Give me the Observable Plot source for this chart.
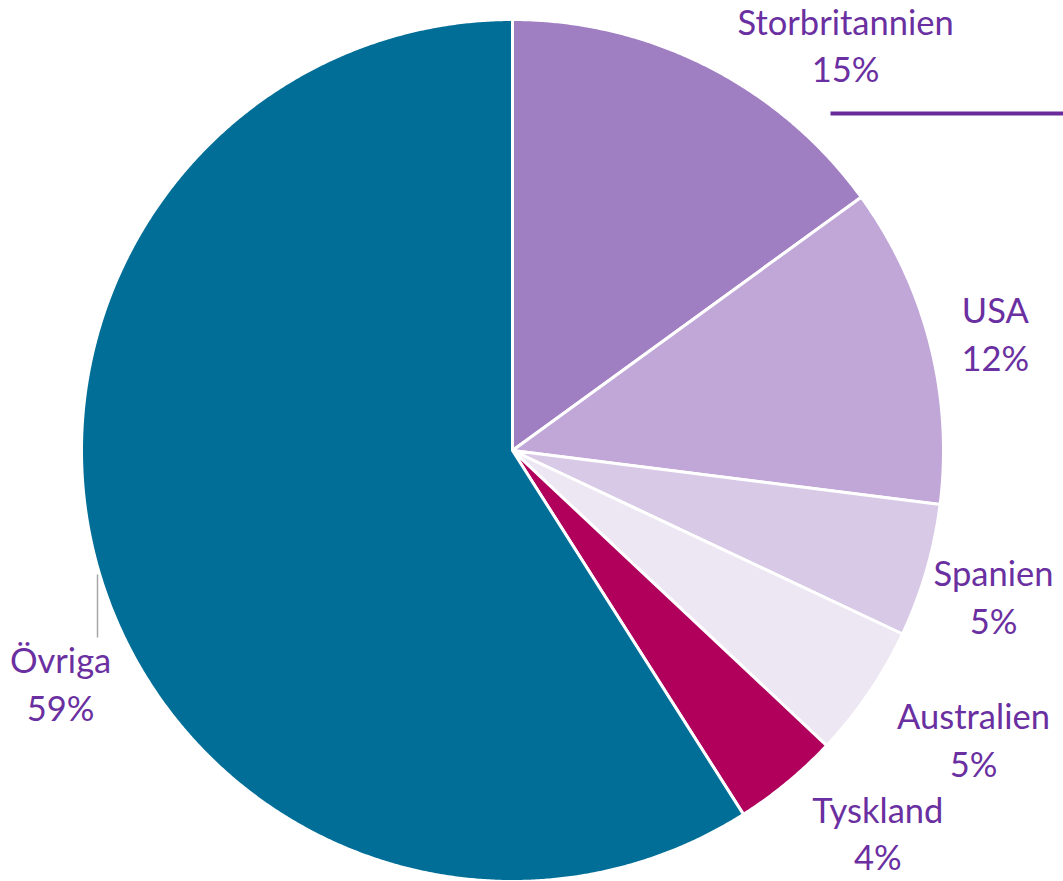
<!DOCTYPE html>
<html>
<head>
<meta charset="utf-8">
<script src="https://cdn.jsdelivr.net/npm/d3@7"></script>
<script src="https://cdn.jsdelivr.net/npm/@observablehq/plot@0.6"></script>
<style>
  html, body { margin: 0; padding: 0; background: #fff; }
  #chart { width: 1063px; height: 881px; }
</style>
</head>
<body>
<div id="chart"></div>
<script>
// ---- data ----
const categories = ["Storbritannien", "USA", "Spanien", "Australien", "Tyskland", "Övriga"];
const shares = [15, 12, 5, 5, 4, 59];
const colors = ["#A07EC2", "#C0A7D7", "#D8C9E6", "#EDE7F3", "#B0005C", "#006E96"];

// ---- layout (label placement: angle offset from slice middle in degrees, radius factor) ----
const labelAngleOffset = [12.5, 0.9, 0.8, -2.0, -4.0, -11.2];
const labelRadius = [1.215, 1.152, 1.167, 1.264, 1.229, 1.181];

const W = 1063, H = 881, CX = 512, CY = 450, R = 431;

const pie = d3.pie().sort(null).value(d => d)(shares);

// build slice polygons in unit-radius coordinates from the pie angles
const slicePts = [];
pie.forEach((p, i) => {
  const n = Math.max(4, Math.ceil((p.endAngle - p.startAngle) / 0.005));
  slicePts.push({name: categories[i], x: 0, y: 0, k: 0});
  for (let j = 0; j <= n; j++) {
    const a = p.startAngle + (p.endAngle - p.startAngle) * j / n;
    slicePts.push({name: categories[i], x: Math.sin(a), y: Math.cos(a), k: j + 1});
  }
  slicePts.push({name: categories[i], x: 0, y: 0, k: n + 2});
});

const labels = pie.map((p, i) => {
  const a = (p.startAngle + p.endAngle) / 2 + labelAngleOffset[i] * Math.PI / 180;
  return {
    name: categories[i],
    text: `${categories[i]}\n${shares[i]}%`,
    x: Math.sin(a) * labelRadius[i],
    y: Math.cos(a) * labelRadius[i]
  };
});

// leader lines (in unit-radius coordinates)
const leaders = [
  {x1: (830 - CX) / R, y1: (CY - 113) / R, x2: (1063 - CX) / R, y2: (CY - 113) / R, c: "#6A2A9A", w: 4},
  {x1: (97 - CX) / R, y1: (CY - 574) / R, x2: (97 - CX) / R, y2: (CY - 637) / R, c: "#A6A6A6", w: 1.5}
];

const chart = Plot.plot({
  width: W,
  height: H,
  margin: 0,
  x: {domain: [-CX / R, (W - CX) / R], axis: null},
  y: {domain: [-(H - CY) / R, CY / R], axis: null},
  color: {domain: categories, range: colors},
  marks: [
    Plot.line(slicePts, {x: "x", y: "y", z: "name", fill: "name", stroke: "white", strokeWidth: 3, strokeLinejoin: "round", curve: "linear"}),
    Plot.link(leaders, {x1: "x1", y1: "y1", x2: "x2", y2: "y2", stroke: d => d.c, strokeWidth: d => d.w}),
    Plot.text(labels, {x: "x", y: "y", dy: -3, text: "text", fill: "#6A2FA0", fontSize: 34.5, lineHeight: 1.38, fontFamily: "Lato, 'Open Sans', sans-serif", textAnchor: "middle"})
  ]
});
document.getElementById("chart").appendChild(chart);
</script>
</body>
</html>
